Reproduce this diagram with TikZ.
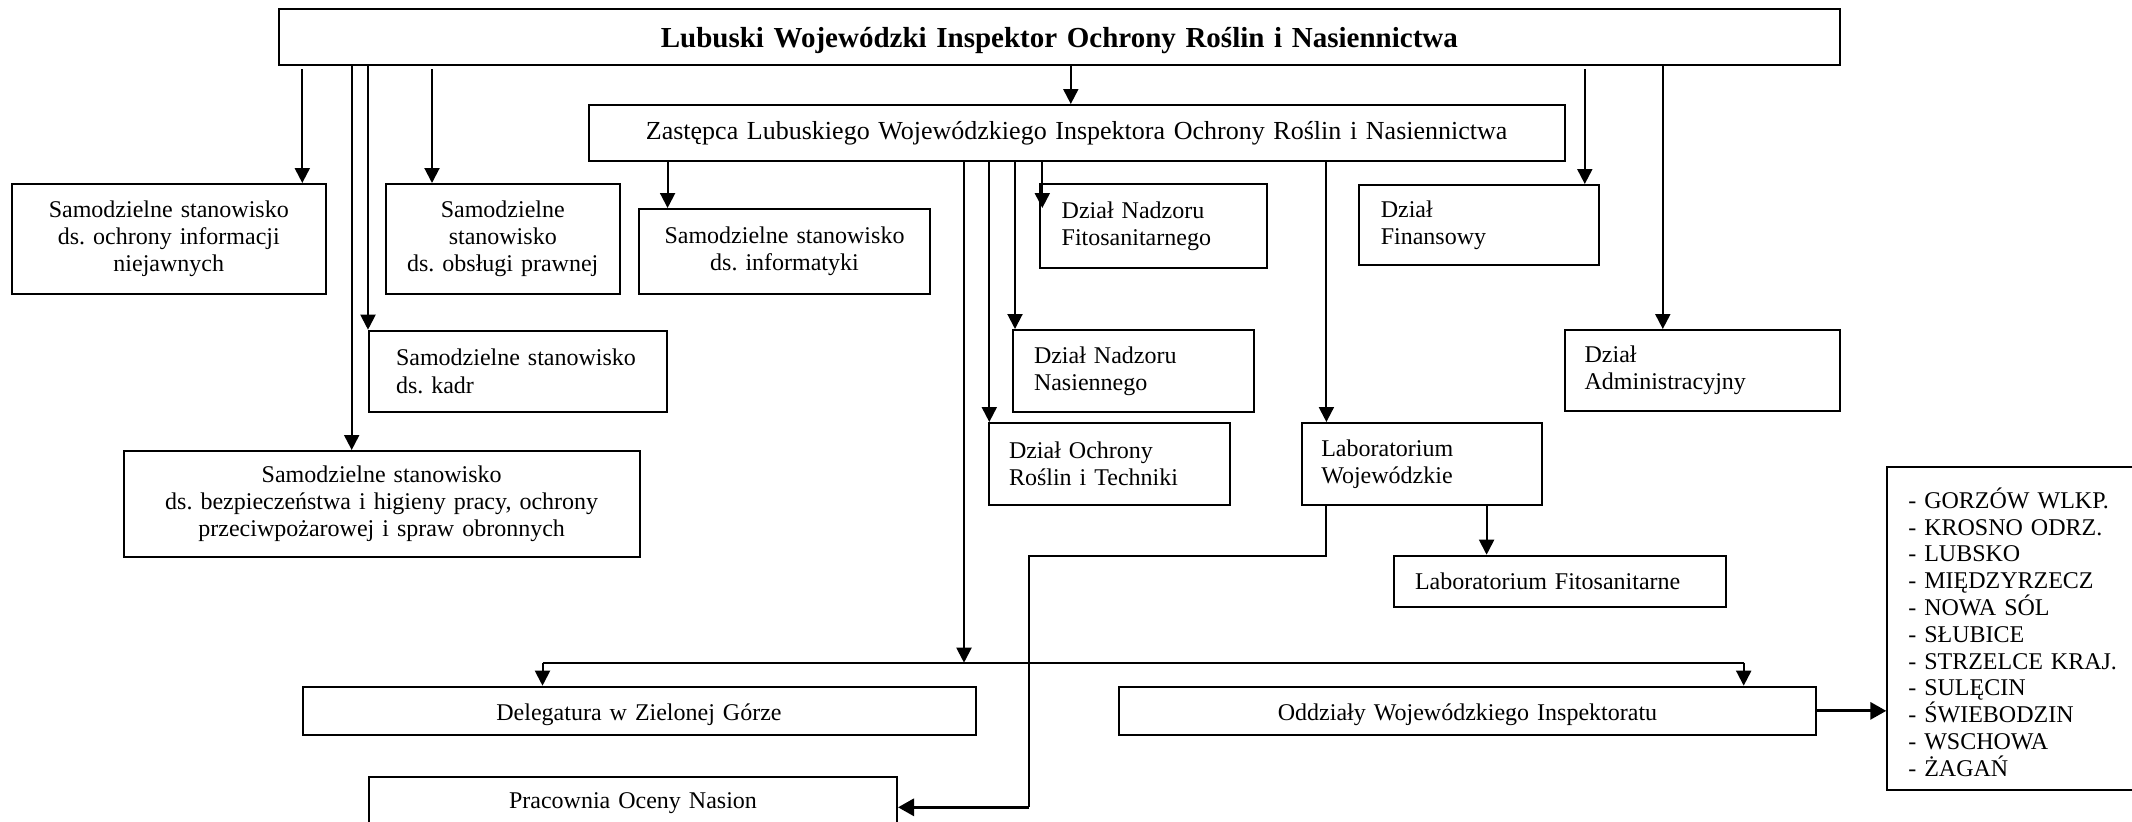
\documentclass[tikz,border=0pt]{standalone}
\usepackage{fontspec}
\setmainfont{Liberation Serif}
\usetikzlibrary{arrows.meta}
\frenchspacing
\begin{document}
\begin{tikzpicture}[x=0.5pt,y=-0.5pt,
  box/.style={draw, line width=1pt, inner ysep=0pt, font=\frenchspacing\fontsize{12}{13.6}\selectfont},
  cbox/.style={box, align=center, inner xsep=3pt},
  arr/.style={line width=1pt, -{Triangle[length=7.5pt,width=7.5pt]}},
  thickarr/.style={line width=1.6pt, -{Triangle[length=8pt,width=8.5pt]}},
  conn/.style={line width=1pt}]
\useasboundingbox (0,0) rectangle (2132,821);
\fill[white] (0,0) rectangle (2132,821);
% top level
\node[cbox, minimum width=780.35pt, minimum height=28pt, text width=770pt, text height=13.7pt, text depth=3pt, font=\frenchspacing\fontsize{14.5}{16}\selectfont\bfseries] (top) at (1059.35,37) {Lubuski Wojewódzki Inspektor Ochrony Roślin i Nasiennictwa};
\node[cbox, minimum width=487.95pt, minimum height=27.75pt, text width=480pt, text height=9.55pt, text depth=3pt, font=\frenchspacing\fontsize{13}{15}\selectfont] (zast) at (1076.65,132.75) {Zastępca Lubuskiego Wojewódzkiego Inspektora Ochrony Roślin i Nasiennictwa};
% left column
\node[cbox, minimum width=157.2pt, minimum height=55pt, text width=151pt] (ochr) at (168.8,239) {Samodzielne stanowisko\\ds. ochrony informacji\\niejawnych};
\node[cbox, minimum width=117.25pt, minimum height=55pt, text width=111pt] (praw) at (502.75,239) {Samodzielne\\stanowisko\\ds. obsługi prawnej};
\node[cbox, minimum width=145.5pt, minimum height=42.5pt, text width=139pt] (info) at (784.5,251.5) {Samodzielne stanowisko\\ds. informatyki};
\node[box, align=left, inner xsep=13.5pt, minimum width=149pt, minimum height=40.65pt, text width=122pt] (kadr) at (518,371.35) {Samodzielne stanowisko\\ds. kadr};
\node[cbox, minimum width=258pt, minimum height=52.85pt, text width=250pt] (bhp) at (381.7,503.85) {Samodzielne stanowisko\\ds. bezpieczeństwa i higieny pracy, ochrony\\przeciwpożarowej i spraw obronnych};
% right column
\node[box, align=left, inner xsep=10.85pt, minimum width=113.35pt, minimum height=42pt, text width=91.65pt] (fito) at (1153.35,226.3) {Dział Nadzoru\\Fitosanitarnego};
\node[box, align=left, inner xsep=10.5pt, minimum width=120.5pt, minimum height=41pt, text width=99.5pt] (nasien) at (1133.5,371) {Dział Nadzoru\\Nasiennego};
\node[box, align=left, inner xsep=10pt, minimum width=120.3pt, minimum height=41pt, text width=100.3pt] (ochrT) at (1109.3,464) {Dział Ochrony\\Roślin i Techniki};
\node[box, align=left, inner xsep=9.75pt, minimum width=119.85pt, minimum height=41pt, text width=100.35pt] (labW) at (1421.65,464) {Laboratorium\\Wojewódzkie};
\node[box, align=left, inner xsep=10.5pt, minimum width=166.2pt, minimum height=25.8pt, text width=145.2pt, text height=9.8pt, text depth=2pt] (labF) at (1560.2,581.5) {Laboratorium Fitosanitarne};
\node[box, align=left, inner xsep=11pt, minimum width=120.25pt, minimum height=40pt, text width=98.25pt] (fin) at (1479.05,225) {Dział\\Finansowy};
\node[box, align=left, inner xsep=10pt, minimum width=137.55pt, minimum height=40.35pt, text width=117.55pt] (adm) at (1702.15,370.35) {Dział\\Administracyjny};
% bottom
\node[cbox, minimum width=336.5pt, minimum height=24.15pt, text width=330pt, text height=12pt, text depth=2.15pt] (deleg) at (639,710.85) {Delegatura w Zielonej Górze};
\node[cbox, minimum width=348.5pt, minimum height=24.15pt, text width=342pt, text height=12pt, text depth=2.15pt] (odd) at (1467.5,710.85) {Oddziały Wojewódzkiego Inspektoratu};
\node[cbox, minimum width=264pt, minimum height=24.65pt, text width=258pt, text height=9.1pt, text depth=2.15pt] (prac) at (633,801.35) {Pracownia Oceny Nasion};
\node[box, align=left, inner xsep=10.5pt, minimum width=136.35pt, minimum height=161.65pt, text width=115.35pt, text height=7pt, text depth=127.05pt, font=\frenchspacing\fontsize{12}{13.4}\selectfont] (list) at (2023.65,628.35) {- GORZÓW WLKP.\\- KROSNO ODRZ.\\- LUBSKO\\- MIĘDZYRZECZ\\- NOWA SÓL\\- SŁUBICE\\- STRZELCE KRAJ.\\- SULĘCIN\\- ŚWIEBODZIN\\- WSCHOWA\\- ŻAGAŃ};
% connectors from top
\draw[arr, shorten <=1.5pt] (302.3,0 |- top.south) -- (302.3,0 |- ochr.north);
\draw[arr] (351.7,0 |- top.south) -- (351.7,0 |- bhp.north);
\draw[arr] (kadr.north west |- top.south) -- (kadr.north west);
\draw[arr, shorten <=1.5pt] (432,0 |- top.south) -- (432,0 |- praw.north);
\draw[arr] (1070.8,0 |- top.south) -- (1070.8,0 |- zast.north);
\draw[arr, shorten <=1.5pt] (1584.8,0 |- top.south) -- (1584.8,0 |- fin.north);
\draw[arr] (1662.8,0 |- top.south) -- (1662.8,0 |- adm.north);
% connectors from zast
\draw[arr] (667.6,0 |- zast.south) -- (667.6,0 |- info.north);
\coordinate (busL) at (542.5,662.7);
\coordinate (busR) at (1743.7,662.7);
\coordinate (busJ) at (964,662.7);
\draw[arr] (busJ |- zast.south) -- (busJ);
\draw[conn] (busL) -- (busR);
\draw[arr] (busL) -- (busL |- deleg.north);
\draw[arr] (busR) -- (busR |- odd.north);
\draw[arr] (989.3,0 |- zast.south) -- (989.3,0 |- ochrT.north);
\draw[arr] (1015,0 |- zast.south) -- (1015,0 |- nasien.north);
\draw[arr] (1042.3,0 |- zast.south) -- (1042.3,208);
\draw[arr] (1326.4,0 |- zast.south) -- (1326.4,0 |- labW.north);
% laboratory
\draw[arr] (1486.6,0 |- labW.south) -- (1486.6,0 |- labF.north);
\coordinate (lb1) at (1028.9,807.3);
\draw[conn] (1326.4,0 |- labW.south) -- (1326.4,555.7) -- (1028.9,555.7) -- (lb1);
\draw[thickarr] (lb1) -- (prac.east |- lb1);
\draw[thickarr] (odd.east) -- (list.west |- odd.east);
\end{tikzpicture}
\end{document}
